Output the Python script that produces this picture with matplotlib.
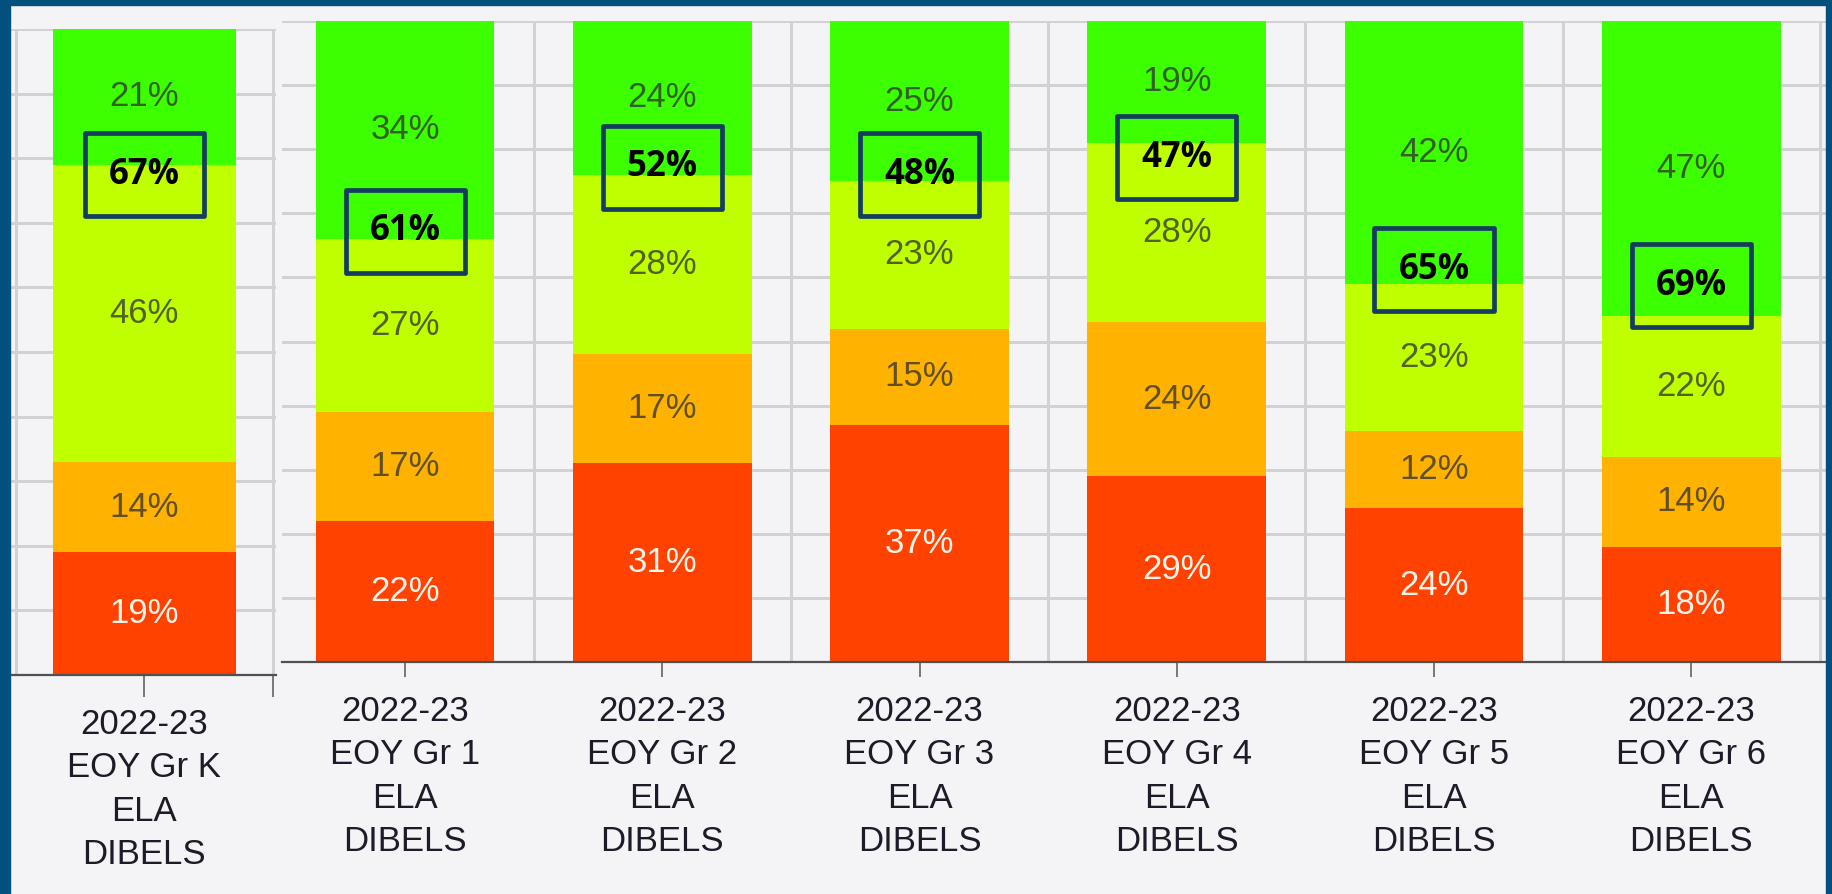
import matplotlib
matplotlib.use("Agg")
import matplotlib.pyplot as plt
from matplotlib import font_manager
from matplotlib.patches import Rectangle

# data (percent of students per DIBELS band, bottom to top)
grades = ["K", "1", "2", "3", "4", "5", "6"]
red_pct = [19, 22, 31, 37, 29, 24, 18]
orange_pct = [14, 17, 17, 15, 24, 12, 14]
yellow_pct = [46, 27, 28, 23, 28, 23, 22]
green_pct = [21, 34, 24, 25, 19, 42, 47]
# vertical placement of the highlighted "at/above benchmark" callouts (percent axis)
callout_y = [77.4, 67.2, 77.2, 76.0, 78.7, 61.2, 58.7]

tick_labels = [f"2022-23\nEOY Gr {g}\nELA\nDIBELS" for g in grades]

BG = "#F4F4F6"
BORDER = "#02507E"
GRID = "#D2D2D6"
BAND_COLORS = ["#FF4200", "#FFB300", "#BFFF00", "#3CFF00"]
BOX_COLOR = "#143D5F"


def pick_family():
    for name in ["Liberation Sans Narrow", "Liberation Sans"]:
        try:
            font_manager.findfont(name, fallback_to_default=False)
            return name
        except Exception:
            continue
    return "DejaVu Sans"


LABEL_FAMILY = pick_family()
NARROW = LABEL_FAMILY == "Liberation Sans Narrow"
LABEL_SIZE = 29 if NARROW else 25

W, H = 1833, 894
fig = plt.figure(figsize=(W / 100, H / 100), dpi=100)
fig.patch.set_facecolor(BG)


def axes_px(left, top, right, bottom):
    return fig.add_axes([left / W, 1 - bottom / H, (right - left) / W, (bottom - top) / H])


def draw_panel(ax, idx, xlim, bar_width, tick_len, tick_pad, end_tick=False):
    ax.set_facecolor(BG)
    n = len(idx)
    xs = list(range(n))
    ax.set_xlim(*xlim)
    ax.set_ylim(0, 100)

    # grid
    for y in range(10, 101, 10):
        ax.axhline(y, color=GRID, lw=2.2, zorder=0)
    for b in range(-1, n + 1):
        ax.axvline(b + 0.5, color=GRID, lw=2.2, zorder=0)

    bottoms = [0.0] * n
    bands = [red_pct, orange_pct, yellow_pct, green_pct]
    for k, (band, color) in enumerate(zip(bands, BAND_COLORS)):
        vals = [band[i] for i in idx]
        ax.bar(xs, vals, width=bar_width, bottom=bottoms, color=color, zorder=2, linewidth=0)
        for x, v, b0 in zip(xs, vals, bottoms):
            mid = (b0 + min(b0 + v, 100)) / 2
            if k == 0:
                ax.text(x, mid, f"{v}%", ha="center", va="center", color="#FFF3EA",
                        fontsize=LABEL_SIZE, family=LABEL_FAMILY, zorder=3)
            else:
                ax.text(x, mid, f"{v}%", ha="center", va="center", color="#2E2E2E", alpha=0.75,
                        fontsize=LABEL_SIZE, family=LABEL_FAMILY, zorder=3)
        bottoms = [b0 + v for b0, v in zip(bottoms, vals)]

    # highlighted callouts: share at or above benchmark (top two bands)
    px_per_unit = ax.bbox.height / 100
    box_h = 83 / px_per_unit
    box_w = 0.463
    for x, i in zip(xs, idx):
        total = green_pct[i] + yellow_pct[i]
        yc = callout_y[i]
        ax.add_patch(Rectangle((x - box_w / 2, yc - box_h / 2), box_w, box_h, fill=False,
                               edgecolor=BOX_COLOR, lw=3.4, joinstyle="round", zorder=4))
        ax.text(x, yc, f"{total}%", ha="center", va="center", fontsize=25,
                family=["Open Sans", "DejaVu Sans"], fontweight="bold", color="black", zorder=5)

    for side in ["top", "right", "left"]:
        ax.spines[side].set_visible(False)
    ax.spines["bottom"].set_color("#505050")
    ax.spines["bottom"].set_linewidth(1.6)
    ax.set_yticks([])
    ax.set_xticks(xs)
    ax.set_xticklabels([tick_labels[i] for i in idx], family=LABEL_FAMILY,
                       fontsize=LABEL_SIZE, color="#1C1C28", linespacing=1.4)
    ax.tick_params(axis="x", length=tick_len, width=1.1, color="#555555", pad=tick_pad)
    if end_tick:
        ax.set_xticks([0.5], minor=True)
        ax.tick_params(axis="x", which="minor", length=tick_len, width=1.1, color="#555555")


ax_k = axes_px(10, 29, 276, 675)
ax_m = axes_px(282, 21, 1826, 662)

draw_panel(ax_k, [0], (-0.5226, 0.5117), 0.714, 15.8, 8, end_tick=True)
draw_panel(ax_m, [1, 2, 3, 4, 5, 6], (-0.4786, 5.524), 0.695, 10.8, 13)

# dark blue frame of the slide
fig.add_artist(Rectangle((0, 0), 10 / W, 1, transform=fig.transFigure, color=BORDER, zorder=10))
fig.add_artist(Rectangle((0, 1 - 5 / H), 1, 5 / H, transform=fig.transFigure, color=BORDER, zorder=10))
fig.add_artist(Rectangle((1826 / W, 0), 7 / W, 1, transform=fig.transFigure, color=BORDER, zorder=10))

fig.savefig("out.png", dpi=100, facecolor=BG)
